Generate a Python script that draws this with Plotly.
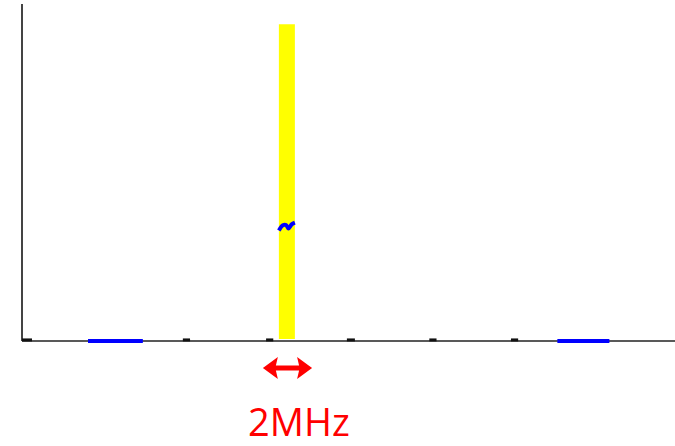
import plotly.graph_objects as go

# ---- data (frequency in MHz, amplitude in arbitrary %) ----
band_center = 33.1          # MHz, yellow occupied band
band_width = 2.0            # MHz
band_low, band_high = 0.6, 94.0

wiggle_x = [32.1, 32.6, 33.0, 33.3, 33.7, 34.1]
wiggle_y = [32.8, 34.3, 34.4, 33.4, 34.6, 35.1]

blue_segments = [(8.25, 15.1), (66.9, 73.4)]
black_ticks = [(0.0, 1.25), (20.1, 21.0), (30.5, 31.4), (40.6, 41.6), (50.9, 51.8), (61.1, 62.0)]

label_text = "2MHz"
arrow_span = (30.1, 36.25)  # MHz

x_range = [-0.25, 81.6]
y_range = [-1.5, 100]

fig = go.Figure()

fig.add_trace(go.Bar(x=[band_center], y=[band_high - band_low], base=[band_low],
                     width=[band_width], marker=dict(color="#ffff00", line=dict(width=0)),
                     hoverinfo="skip"))

for a, b in blue_segments:
    fig.add_trace(go.Scatter(x=[a, b], y=[0, 0], mode="lines",
                             line=dict(color="#0000ff", width=4)))
for a, b in black_ticks:
    fig.add_trace(go.Scatter(x=[a, b], y=[0.3, 0.3], mode="lines",
                             line=dict(color="#111111", width=3)))

fig.add_trace(go.Scatter(x=wiggle_x, y=wiggle_y, mode="lines",
                         line=dict(color="#0000ff", width=4, shape="spline")))

# axes as shapes
fig.add_shape(type="line", xref="x", yref="y", x0=0, x1=x_range[1], y0=0, y1=0,
              line=dict(color="#222222", width=1.5), layer="below")
fig.add_shape(type="line", xref="x", yref="y", x0=0, x1=0, y0=0, y1=y_range[1],
              line=dict(color="#444444", width=2), layer="below")

# arrow (double headed) below the axis
ML, MT, MB = 20, 4, 100
W, H = 675, 446
pw, ph = W - ML, H - MT - MB

def xp(v):
    return (v - x_range[0]) / (x_range[1] - x_range[0])

def yp_px(py):
    return (H - MB - py) / ph

def xoff(px):
    return px / pw

cy = 368
l, r = xp(arrow_span[0]), xp(arrow_span[1])
hl = xoff(15)
pts = [
    (l, cy),
    (l + hl, cy - 11),
    (l + hl - xoff(2), cy - 2.5),
    (r - hl + xoff(2), cy - 2.5),
    (r - hl, cy - 11),
    (r, cy),
    (r - hl, cy + 11),
    (r - hl + xoff(2), cy + 2.5),
    (l + hl - xoff(2), cy + 2.5),
    (l + hl, cy + 11),
]
path = "M " + " L ".join(f"{px:.5f},{yp_px(py):.5f}" for px, py in pts) + " Z"
fig.add_shape(type="path", xref="paper", yref="paper", path=path,
              fillcolor="#ff0000", line=dict(width=0))

fig.add_annotation(text=label_text, xref="paper", yref="paper",
                   x=xp(34.6), y=yp_px(421), xanchor="center", yanchor="middle",
                   showarrow=False, font=dict(family="Open Sans", size=38, color="#ff0000"))

fig.update_layout(
    width=W, height=H, margin=dict(l=ML, r=0, t=MT, b=MB),
    plot_bgcolor="white", paper_bgcolor="white", showlegend=False,
    xaxis=dict(range=x_range, visible=False, fixedrange=True),
    yaxis=dict(range=y_range, visible=False, fixedrange=True),
)

fig.write_html("out.html", config={"displayModeBar": False},
               post_script="document.body.style.margin='0';document.body.style.overflow='hidden';")
